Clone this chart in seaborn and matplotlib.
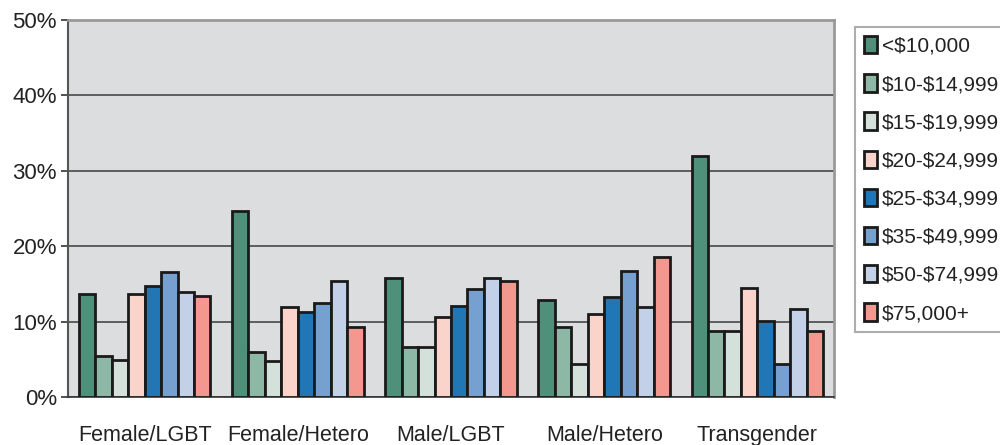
import pandas as pd
import matplotlib.pyplot as plt
import seaborn as sns
from matplotlib.patches import Patch

# === Data (percent) ===
groups = ["Female/LGBT", "Female/Hetero", "Male/LGBT", "Male/Hetero", "Transgender"]
incomes = ["<$10,000", "$10-$14,999", "$15-$19,999", "$20-$24,999",
           "$25-$34,999", "$35-$49,999", "$50-$74,999", "$75,000+"]
female_lgbt = [13.6, 5.4, 4.9, 13.7, 14.7, 16.6, 13.9, 13.4]
female_hetero = [24.7, 6.0, 4.8, 11.9, 11.3, 12.5, 15.4, 9.3]
male_lgbt = [15.8, 6.6, 6.6, 10.6, 12.0, 14.3, 15.8, 15.4]
male_hetero = [12.8, 9.3, 4.4, 11.0, 13.2, 16.7, 11.9, 18.5]
transgender = [32.0, 8.7, 8.7, 14.5, 10.1, 4.4, 11.6, 8.7]
colors = ["#4E9079", "#8EB8A6", "#D3E1DA", "#FAD3CB",
          "#2177B6", "#76A0CF", "#C2D1E8", "#F4978E"]

series = [female_lgbt, female_hetero, male_lgbt, male_hetero, transgender]
rows = []
for g, vals in zip(groups, series):
    for inc, v in zip(incomes, vals):
        rows.append({"group": g, "income": inc, "value": v})
df = pd.DataFrame(rows)

sns.set_style("white")
plt.rcParams["font.family"] = ["Liberation Sans", "DejaVu Sans"]
plt.rcParams["text.parse_math"] = False

fig = plt.figure(figsize=(10, 4.45), dpi=100)
ax = fig.add_axes([0.068, 0.108, 0.766, 0.847])
ax.set_facecolor("#DCDDDF")

sns.barplot(data=df, x="group", y="value", hue="income", order=groups,
            hue_order=incomes, palette=colors, saturation=1, width=0.86,
            edgecolor="#1a1a1a", linewidth=2, legend=False, ax=ax, zorder=3)

# === Axes styling ===
ax.set_ylim(0, 50)
ax.set_xlim(-0.5, 4.5)
ax.set_yticks(range(0, 51, 10))
ax.set_yticklabels([f"{v}%" for v in range(0, 51, 10)], fontsize=16, color="#222222")
ax.yaxis.grid(True, color="#3a3a3a", linewidth=1.1, zorder=1)
ax.set_axisbelow(True)
ax.set_xlabel("")
ax.set_ylabel("")

ax.set_xticks(range(len(groups)))
ax.set_xticklabels(groups, fontsize=15.5, color="#222222")
ax.set_xticks([i - 0.5 for i in range(len(groups) + 1)], minor=True)
ax.tick_params(axis="x", which="major", length=0, pad=20)
ax.tick_params(axis="x", which="minor", length=8, width=1.2, color="#333333", direction="out")
ax.tick_params(axis="y", length=5, width=1.2, color="#333333", direction="out", pad=3, left=True)

for side in ["top", "right"]:
    ax.spines[side].set_color("#999999")
    ax.spines[side].set_linewidth(2)
ax.spines["left"].set_color("#555555")
ax.spines["left"].set_linewidth(1.5)
ax.spines["bottom"].set_color("#333333")
ax.spines["bottom"].set_linewidth(1.2)

# === Legend ===
handles = [Patch(facecolor=c, edgecolor="#1a1a1a", linewidth=2) for c in colors]
leg = fig.legend(handles, incomes, loc="upper left", bbox_to_anchor=(0.855, 0.94),
                 fontsize=15, frameon=True, fancybox=False, handlelength=0.6,
                 handleheight=0.9, handletextpad=0.25, labelspacing=0.88,
                 borderpad=0.45, borderaxespad=0)
leg.get_frame().set_edgecolor("#999999")
leg.get_frame().set_linewidth(1.5)
for t in leg.get_texts():
    t.set_color("#222222")

plt.savefig("out.png", dpi=100)
plt.close()
